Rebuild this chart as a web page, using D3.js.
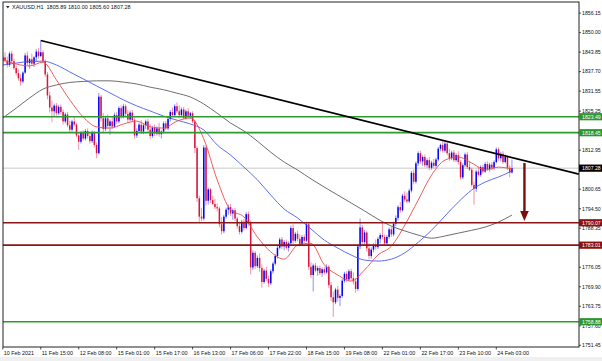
<!DOCTYPE html>
<html><head><meta charset="utf-8">
<script src="https://cdn.jsdelivr.net/npm/d3@7"></script>
<style>
html,body{margin:0;padding:0;background:#fff;}
svg{display:block;font-family:"Liberation Sans",Arial,sans-serif;}
</style></head><body>
<svg id="c" width="602" height="361"></svg>
<script>
// ---------------- data ----------------
const symbolTitle = "XAUUSD,H1";
const lastOHLC = ["1805.89", "1810.00", "1805.60", "1807.28"];
const lastPrice = 1807.28;

const opens = [1841.0,1842.2,1841.2,1839.8,1843.4,1841.0,1838.8,1837.2,1835.6,1834.6,
1837.4,1842.8,1840.4,1841.6,1840.2,1842.2,1844.0,1842.6,1843.8,1841.0,
1836.8,1830.2,1826.4,1825.2,1827.0,1824.6,1826.6,1825.0,1822.0,1824.2,
1820.8,1819.4,1822.0,1821.0,1817.6,1815.6,1818.4,1816.6,1819.0,1817.4,
1815.8,1818.6,1814.6,1812.0,1829.8,1823.0,1819.6,1823.0,1820.6,1822.0,
1820.4,1824.0,1822.0,1826.2,1823.6,1826.8,1824.4,1822.6,1824.8,1822.4,
1817.6,1819.0,1821.0,1818.8,1820.8,1822.0,1819.4,1817.4,1820.0,1818.2,
1819.8,1818.0,1818.8,1821.4,1819.8,1822.8,1825.0,1824.0,1826.8,1825.2,
1824.0,1825.8,1823.2,1825.2,1823.8,1824.6,1822.0,1813.6,1797.8,1792.0,
1791.4,1813.8,1797.0,1800.6,1797.2,1796.0,1795.0,1794.6,1789.6,1787.4,
1792.0,1794.2,1795.0,1793.0,1794.0,1791.4,1789.0,1787.2,1790.4,1788.4,
1792.8,1790.0,1776.0,1780.6,1776.4,1779.0,1775.8,1771.4,1775.0,1772.4,
1771.0,1774.8,1777.2,1779.6,1782.2,1784.8,1782.6,1784.0,1782.2,1783.6,
1788.4,1784.4,1786.6,1785.0,1783.4,1785.6,1784.4,1789.6,1776.2,1773.6,
1776.6,1775.0,1775.8,1774.2,1775.4,1774.4,1776.2,1770.4,1766.6,1765.0,
1769.0,1766.4,1767.0,1771.8,1774.0,1772.2,1774.8,1772.6,1771.6,1769.2,
1782.6,1788.6,1784.0,1787.0,1782.0,1779.6,1781.6,1783.0,1782.4,1785.0,
1786.2,1785.6,1783.6,1785.6,1788.0,1786.4,1789.8,1791.6,1795.0,1794.0,
1798.6,1797.4,1796.8,1800.2,1805.8,1803.0,1808.8,1812.0,1809.4,1810.8,
1808.2,1809.8,1807.4,1809.0,1808.0,1810.0,1813.4,1814.6,1812.8,1815.0,
1812.0,1810.4,1812.2,1809.8,1811.4,1809.2,1804.4,1808.2,1811.6,1807.6,
1806.8,1802.0,1800.8,1806.2,1805.2,1807.6,1806.2,1808.6,1807.0,1808.4,
1807.4,1809.2,1813.2,1810.4,1811.8,1809.2,1810.8,1807.4,1805.89];

const highs = [1843.0,1843.8,1842.5,1844.0,1844.2,1841.8,1839.6,1838.4,1836.9,1837.8,
1843.6,1844.0,1842.0,1843.4,1842.6,1844.8,1845.2,1847.5,1844.4,1841.6,
1837.6,1831.4,1828.6,1827.6,1827.8,1827.2,1827.4,1825.8,1824.8,1825.0,
1822.2,1822.6,1823.4,1821.6,1818.4,1819.0,1819.2,1819.6,1819.8,1818.4,
1819.2,1819.0,1815.4,1831.0,1830.4,1824.6,1823.8,1824.2,1822.6,1823.4,
1824.8,1825.0,1826.8,1827.0,1827.6,1827.4,1825.6,1825.4,1825.6,1823.2,
1819.8,1821.6,1822.4,1821.4,1822.6,1822.8,1821.2,1820.6,1821.0,1820.4,
1821.6,1819.2,1822.0,1822.2,1823.4,1825.6,1826.4,1827.4,1828.0,1827.0,
1826.4,1826.6,1825.8,1826.2,1825.0,1825.2,1822.6,1814.2,1798.6,1794.8,
1814.6,1814.4,1801.2,1801.0,1798.6,1797.6,1796.2,1795.2,1791.8,1792.6,
1794.8,1795.8,1796.0,1794.6,1794.8,1792.0,1790.4,1791.0,1791.2,1793.4,
1793.6,1790.8,1781.4,1781.2,1779.8,1780.4,1777.0,1775.6,1776.2,1773.4,
1775.4,1777.8,1780.2,1782.8,1785.4,1785.6,1784.6,1784.8,1784.2,1789.2,
1789.6,1787.2,1787.6,1786.4,1786.2,1786.4,1790.4,1790.2,1777.6,1777.2,
1777.4,1776.4,1776.6,1776.0,1776.2,1777.0,1776.8,1771.4,1768.4,1769.6,
1770.2,1767.6,1772.4,1774.6,1774.8,1775.4,1775.6,1774.4,1772.6,1783.4,
1791.4,1789.4,1787.8,1787.6,1783.6,1782.4,1783.6,1784.8,1785.6,1786.8,
1790.2,1786.4,1786.2,1788.6,1788.8,1790.4,1792.4,1795.6,1796.6,1799.2,
1800.0,1799.6,1800.8,1806.4,1806.8,1809.4,1812.6,1812.8,1811.4,1811.6,
1810.4,1810.8,1809.6,1810.2,1810.6,1814.0,1815.0,1815.9,1815.6,1815.6,
1813.4,1812.8,1813.0,1812.0,1812.6,1809.8,1808.8,1812.2,1812.4,1809.4,
1807.4,1803.0,1806.8,1807.8,1808.2,1808.4,1809.2,1809.4,1809.0,1809.2,
1809.8,1813.8,1813.8,1812.4,1812.6,1811.6,1811.4,1808.2,1810.00];

const lows = [1839.5,1840.6,1839.0,1839.2,1840.5,1838.2,1836.4,1834.8,1833.2,1834.0,
1837.0,1839.6,1838.6,1839.8,1839.2,1841.0,1841.8,1842.2,1840.6,1836.0,
1829.0,1824.8,1821.8,1823.6,1823.8,1824.0,1824.2,1821.0,1821.4,1820.2,
1818.6,1818.8,1820.4,1817.0,1813.0,1815.0,1816.0,1816.0,1816.6,1815.0,
1815.2,1813.8,1810.4,1811.6,1822.0,1818.6,1819.0,1819.8,1817.8,1819.6,
1820.0,1821.2,1821.4,1822.8,1823.0,1823.4,1821.6,1822.0,1821.8,1816.6,
1816.8,1818.4,1818.0,1818.0,1819.6,1818.6,1816.4,1816.8,1817.4,1817.6,
1817.2,1816.6,1818.2,1819.2,1819.2,1822.0,1823.4,1823.4,1824.6,1823.0,
1823.4,1822.6,1822.6,1823.2,1822.8,1821.4,1812.0,1796.6,1790.4,1790.6,
1790.8,1795.6,1795.8,1796.2,1795.6,1794.4,1793.6,1788.6,1786.4,1786.8,
1791.4,1792.6,1792.2,1791.0,1790.6,1788.2,1786.4,1786.6,1787.6,1788.0,
1789.0,1773.8,1775.2,1775.4,1775.8,1774.6,1769.6,1770.8,1771.6,1769.8,
1770.4,1774.0,1776.6,1778.8,1781.6,1781.8,1781.4,1781.6,1781.0,1783.0,
1783.4,1783.8,1784.2,1782.6,1782.8,1783.6,1784.0,1775.2,1772.6,1768.4,
1774.4,1773.4,1773.6,1773.0,1773.8,1774.0,1769.4,1765.4,1760.4,1764.4,
1765.2,1763.8,1766.4,1771.2,1771.4,1771.6,1771.8,1770.6,1768.0,1768.6,
1781.8,1783.0,1783.2,1781.0,1778.6,1778.8,1780.8,1781.6,1781.8,1783.6,
1785.0,1782.8,1782.8,1785.0,1785.6,1785.8,1789.0,1790.8,1793.2,1793.6,
1796.6,1796.2,1796.2,1799.6,1802.2,1802.4,1808.0,1808.6,1808.0,1807.6,
1807.4,1806.6,1806.8,1807.2,1807.4,1809.4,1812.6,1812.2,1812.2,1811.4,
1809.6,1809.8,1809.2,1809.2,1808.4,1803.6,1803.8,1807.6,1807.0,1806.4,
1801.4,1795.8,1799.8,1804.6,1804.6,1805.6,1805.8,1806.4,1806.2,1806.6,
1806.8,1808.8,1809.6,1809.4,1808.6,1808.8,1806.6,1804.4,1805.60];

const closes = [1842.2,1841.2,1839.8,1843.4,1841.0,1838.8,1837.2,1835.6,1834.6,1837.4,
1842.8,1840.4,1841.6,1840.2,1842.2,1844.0,1842.6,1843.8,1841.0,1836.8,
1830.2,1826.4,1825.2,1827.0,1824.6,1826.6,1825.0,1822.0,1824.2,1820.8,
1819.4,1822.0,1821.0,1817.6,1815.6,1818.4,1816.6,1819.0,1817.4,1815.8,
1818.6,1814.6,1812.0,1829.8,1823.0,1819.6,1823.0,1820.6,1822.0,1820.4,
1824.0,1822.0,1826.2,1823.6,1826.8,1824.4,1822.6,1824.8,1822.4,1817.6,
1819.0,1821.0,1818.8,1820.8,1822.0,1819.4,1817.4,1820.0,1818.2,1819.8,
1818.0,1818.8,1821.4,1819.8,1822.8,1825.0,1824.0,1826.8,1825.2,1824.0,
1825.8,1823.2,1825.2,1823.8,1824.6,1822.0,1813.6,1797.8,1792.0,1791.4,
1813.8,1797.0,1800.6,1797.2,1796.0,1795.0,1794.6,1789.6,1787.4,1792.0,
1794.2,1795.0,1793.0,1794.0,1791.4,1789.0,1787.2,1790.4,1788.4,1792.8,
1790.0,1776.0,1780.6,1776.4,1779.0,1775.8,1771.4,1775.0,1772.4,1771.0,
1774.8,1777.2,1779.6,1782.2,1784.8,1782.6,1784.0,1782.2,1783.6,1788.4,
1784.4,1786.6,1785.0,1783.4,1785.6,1784.4,1789.6,1776.2,1773.6,1776.6,
1775.0,1775.8,1774.2,1775.4,1774.4,1776.2,1770.4,1766.6,1765.0,1769.0,
1766.4,1767.0,1771.8,1774.0,1772.2,1774.8,1772.6,1771.6,1769.2,1782.6,
1788.6,1784.0,1787.0,1782.0,1779.6,1781.6,1783.0,1782.4,1785.0,1786.2,
1785.6,1783.6,1785.6,1788.0,1786.4,1789.8,1791.6,1795.0,1794.0,1798.6,
1797.4,1796.8,1800.2,1805.8,1803.0,1808.8,1812.0,1809.4,1810.8,1808.2,
1809.8,1807.4,1809.0,1808.0,1810.0,1813.4,1814.6,1812.8,1815.0,1812.0,
1810.4,1812.2,1809.8,1811.4,1809.2,1804.4,1808.2,1811.6,1807.6,1806.8,
1802.0,1800.8,1806.2,1805.2,1807.6,1806.2,1808.6,1807.0,1808.4,1807.4,
1809.2,1813.2,1810.4,1811.8,1809.2,1810.8,1807.4,1805.89,1807.28];

const timeLabels = ["10 Feb 2021","11 Feb 15:00","12 Feb 08:00","15 Feb 01:00","15 Feb 17:00",
"16 Feb 13:00","17 Feb 06:00","17 Feb 22:00","18 Feb 15:00","19 Feb 08:00",
"22 Feb 01:00","22 Feb 17:00","23 Feb 10:00","24 Feb 03:00"];
const timeLabelBars = [0,17,34,51,68,85,102,119,136,153,170,187,204,221];

// visible price-scale labels (the ones fully under the coloured price boxes are omitted)
const priceTicks = [1856.15,1850.00,1843.85,1837.70,1831.55,1825.25,1812.95,
1800.65,1794.50,1788.35,1776.05,1769.90,1763.75,1757.60,1751.45];

// moving averages read at every 6th bar
const maBars = [0,6,12,18,24,30,36,42,48,54,60,66,72,78,84,90,96,102,108,114,120,
126,132,138,144,150,156,162,168,174,180,186,192,198,204,210,216,222,228];
const maFast = [1841.4,1840.1,1839.5,1840.7,1835.1,1828.8,1823.4,1820.3,1819.9,1821.2,
1822.1,1820.3,1819.9,1822.1,1823.1,1816.5,1803.6,1794.1,1791.9,1785.6,1780.9,
1778.6,1783.0,1783.6,1776.8,1773.6,1771.7,1775.2,1779.9,1782.7,1789.3,
1797.2,1805.1,1809.8,1810.8,1808.9,1806.7,1807.6,1807.0];
const maMid = [1839.8,1840.4,1840.9,1841.0,1839.8,1837.6,1835.4,1833.2,1831.0,1828.8,
1826.9,1825.3,1823.7,1822.4,1821.2,1819.3,1814.6,1811.4,1807.6,1803.6,1798.8,
1794.4,1791.6,1788.1,1784.6,1782.1,1779.9,1778.3,1778.0,1778.6,1780.6,
1783.9,1787.7,1792.2,1796.6,1800.4,1802.9,1804.5,1806.4];
const maSlow = [1823.1,1826.2,1829.4,1832.2,1833.5,1834.3,1834.6,1834.8,1834.8,1834.4,
1833.8,1832.8,1832.0,1830.9,1829.7,1827.5,1824.6,1821.5,1819.0,1815.8,1812.3,
1809.2,1806.7,1803.9,1801.3,1798.8,1796.3,1793.8,1791.2,1789.0,1787.5,
1786.2,1785.2,1785.9,1786.8,1787.7,1788.7,1790.3,1792.5];

const greenLevels = [1823.49, 1818.45, 1758.88];
const redLevels = [1790.07, 1783.01];
const trendBars = [17, 258];
const trendPrices = [1847.5, 1805.4];
const arrowBar = 233.6;
const arrowPrices = [1808.9, 1790.6];

// ---------------- layout ----------------
const svg = d3.select("#c");
const L = 3, R = 579, T = 2, B = 347;
const x = d3.scaleLinear().domain([0, 221]).range([2.8, 496.3]);
const y = d3.scaleLinear().domain([1751.45, 1856.15]).range([345.3, 13.1]);

svg.append("rect").attr("x",0).attr("y",0).attr("width",602).attr("height",361).attr("fill","#fff");
svg.append("rect").attr("x",0).attr("y",357).attr("width",602).attr("height",4).attr("fill","#f0f0f0");

svg.append("defs").append("clipPath").attr("id","plot")
  .append("rect").attr("x",L).attr("y",T).attr("width",R-L).attr("height",B-T);

const plot = svg.append("g").attr("clip-path","url(#plot)");

// bid line
plot.append("line").attr("x1",L).attr("x2",R).attr("y1",y(lastPrice)).attr("y2",y(lastPrice))
  .attr("stroke","#c8c8c8").attr("stroke-width",1);

// candles
const bars = d3.range(opens.length);
const cg = plot.append("g");
const up = "#0000ff", dn = "#dc143c";
cg.selectAll("line.w").data(bars).join("line").attr("class","w")
  .attr("x1",i=>x(i)).attr("x2",i=>x(i))
  .attr("y1",i=>y(highs[i])).attr("y2",i=>y(lows[i]))
  .attr("stroke",i=>closes[i]>=opens[i]?up:dn).attr("stroke-opacity",0.45).attr("stroke-width",1);
cg.selectAll("rect.b").data(bars).join("rect").attr("class","b")
  .attr("x",i=>x(i)-0.75).attr("width",1.5)
  .attr("y",i=>y(Math.max(opens[i],closes[i])))
  .attr("height",i=>Math.max(0.7, Math.abs(y(opens[i])-y(closes[i]))))
  .attr("fill",i=>closes[i]>=opens[i]?up:dn);

// moving averages
function maLine(vals, color, w){
  const ln = d3.line().x((d,k)=>x(maBars[k])).y(d=>y(d)).curve(d3.curveMonotoneX);
  plot.append("path").attr("d", ln(vals)).attr("fill","none")
    .attr("stroke",color).attr("stroke-width",w);
}
maLine(maSlow, "#6e6e6e", 1);
maLine(maMid, "#4a5cf6", 0.9);
maLine(maFast, "#f04848", 0.9);

// horizontal levels
greenLevels.forEach(v=>{
  plot.append("line").attr("x1",L).attr("x2",R).attr("y1",y(v)).attr("y2",y(v))
    .attr("stroke","#2f9a2f").attr("stroke-width",1.7);
});
redLevels.forEach(v=>{
  plot.append("line").attr("x1",L).attr("x2",R).attr("y1",y(v)).attr("y2",y(v))
    .attr("stroke","#8b1414").attr("stroke-width",1.7);
});

// trend line (ray, clipped)
plot.append("line")
  .attr("x1",x(trendBars[0])).attr("y1",y(trendPrices[0]))
  .attr("x2",x(trendBars[1])).attr("y2",y(trendPrices[1]))
  .attr("stroke","#000").attr("stroke-width",1.7);

// arrow
const ax = x(arrowBar), ay0 = y(arrowPrices[0]), ay1 = y(arrowPrices[1]);
plot.append("line").attr("x1",ax).attr("x2",ax).attr("y1",ay0).attr("y2",ay1-9)
  .attr("stroke","#7a0e0e").attr("stroke-width",2.4);
plot.append("path").attr("d",`M${ax-4.3},${ay1-10}L${ax+4.3},${ay1-10}L${ax},${ay1}Z`)
  .attr("fill","#7a0e0e");

// frame
svg.append("rect").attr("x",L).attr("y",T).attr("width",R-L).attr("height",B-T)
  .attr("fill","none").attr("stroke","#222").attr("stroke-width",1);

// price axis
const pa = svg.append("g").attr("font-size","5.2px").attr("fill","#111");
priceTicks.forEach(p=>{
  pa.append("line").attr("x1",R).attr("x2",R+2).attr("y1",y(p)).attr("y2",y(p)).attr("stroke","#222").attr("stroke-width",0.8);
  pa.append("text").attr("x",R+3).attr("y",y(p)).attr("dy","0.35em").text(p.toFixed(2));
});

// price boxes
function priceBox(v, fill){
  const g = svg.append("g");
  g.append("rect").attr("x",R).attr("y",y(v)-3.6).attr("width",602-R).attr("height",7.2).attr("fill",fill);
  g.append("text").attr("x",R+3).attr("y",y(v)).attr("dy","0.35em").attr("font-size","5.2px")
    .attr("fill","#fff").text(v.toFixed(2));
}
greenLevels.forEach(v=>priceBox(v,"#2e962e"));
redLevels.forEach(v=>priceBox(v,"#8b1010"));
priceBox(lastPrice,"#000");

// time axis
const ta = svg.append("g").attr("font-size","5.4px").attr("fill","#111");
timeLabelBars.forEach((b,k)=>{
  ta.append("line").attr("x1",x(b)).attr("x2",x(b)).attr("y1",B).attr("y2",B+2.5).attr("stroke","#222").attr("stroke-width",0.8);
  ta.append("text").attr("x",x(b)+1).attr("y",355).text(timeLabels[k]);
});

// title
svg.append("path").attr("d","M6,6L9.6,6L7.8,8.6Z").attr("fill","#333");
svg.append("text").attr("x",12).attr("y",9.2).attr("font-size","5.5px").attr("fill","#111")
  .attr("xml:space","preserve")
  .text(symbolTitle + "  " + lastOHLC.join(" "));
</script>
</body></html>
